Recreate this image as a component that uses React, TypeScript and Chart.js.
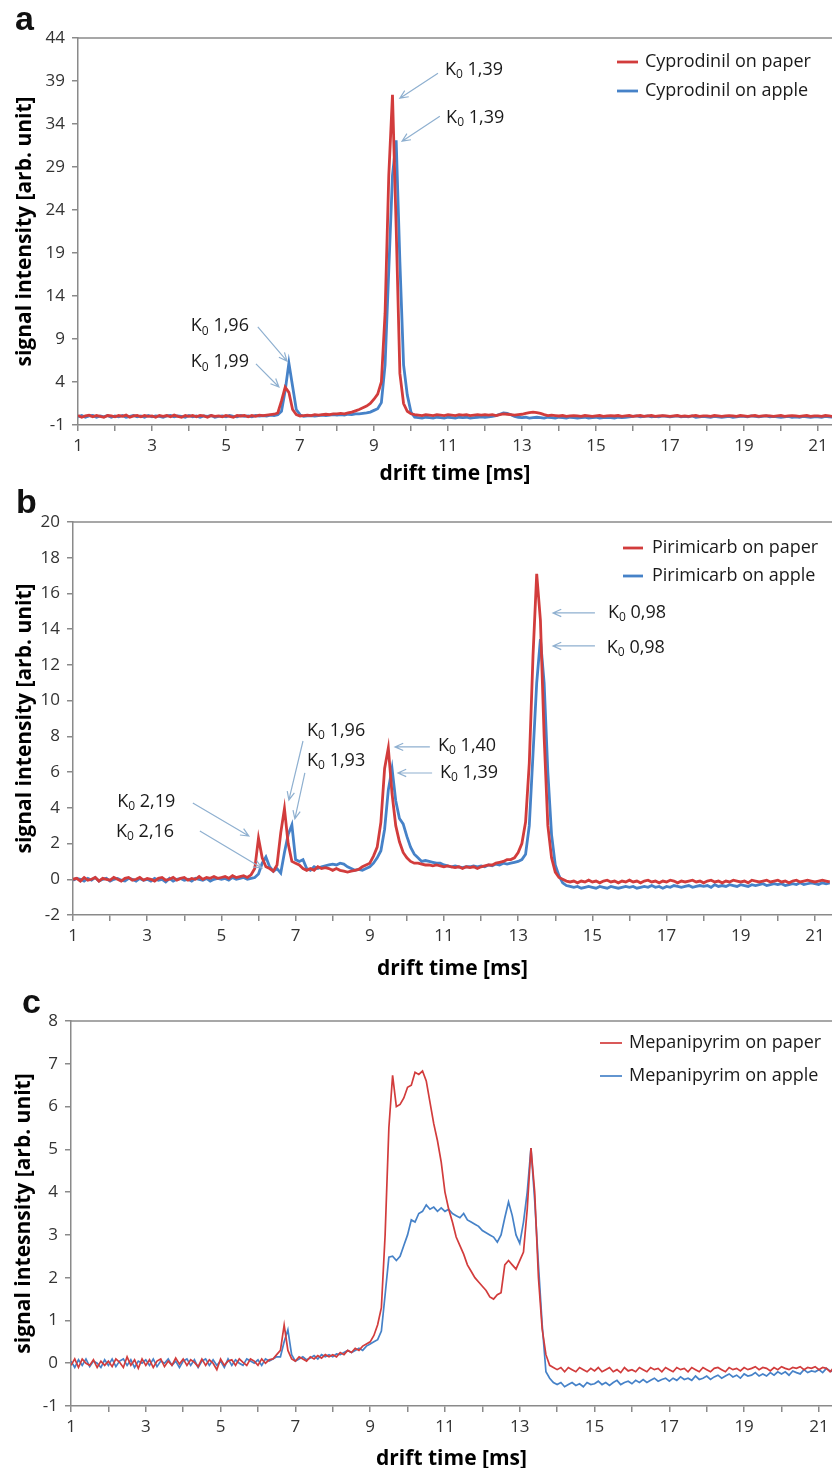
import React, { useEffect, useRef } from "react";
import { Chart, registerables } from "chart.js";

Chart.register(...registerables);

// ---------------- DATA ----------------
const DRIFT_TIME = [
  1.0, 1.1, 1.2, 1.3, 1.4, 1.5, 1.6, 1.7, 1.8, 1.9,
  2.0, 2.1, 2.2, 2.3, 2.4, 2.5, 2.6, 2.7, 2.8, 2.9,
  3.0, 3.1, 3.2, 3.3, 3.4, 3.5, 3.6, 3.7, 3.8, 3.9,
  4.0, 4.1, 4.2, 4.3, 4.4, 4.5, 4.6, 4.7, 4.8, 4.9,
  5.0, 5.1, 5.2, 5.3, 5.4, 5.5, 5.6, 5.7, 5.8, 5.9,
  6.0, 6.1, 6.2, 6.3, 6.4, 6.5, 6.6, 6.7, 6.8, 6.9,
  7.0, 7.1, 7.2, 7.3, 7.4, 7.5, 7.6, 7.7, 7.8, 7.9,
  8.0, 8.1, 8.2, 8.3, 8.4, 8.5, 8.6, 8.7, 8.8, 8.9,
  9.0, 9.1, 9.2, 9.3, 9.4, 9.5, 9.6, 9.7, 9.8, 9.9,
  10.0, 10.1, 10.2, 10.3, 10.4, 10.5, 10.6, 10.7, 10.8, 10.9,
  11.0, 11.1, 11.2, 11.3, 11.4, 11.5, 11.6, 11.7, 11.8, 11.9,
  12.0, 12.1, 12.2, 12.3, 12.4, 12.5, 12.6, 12.7, 12.8, 12.9,
  13.0, 13.1, 13.2, 13.3, 13.4, 13.5, 13.6, 13.7, 13.8, 13.9,
  14.0, 14.1, 14.2, 14.3, 14.4, 14.5, 14.6, 14.7, 14.8, 14.9,
  15.0, 15.1, 15.2, 15.3, 15.4, 15.5, 15.6, 15.7, 15.8, 15.9,
  16.0, 16.1, 16.2, 16.3, 16.4, 16.5, 16.6, 16.7, 16.8, 16.9,
  17.0, 17.1, 17.2, 17.3, 17.4, 17.5, 17.6, 17.7, 17.8, 17.9,
  18.0, 18.1, 18.2, 18.3, 18.4, 18.5, 18.6, 18.7, 18.8, 18.9,
  19.0, 19.1, 19.2, 19.3, 19.4, 19.5, 19.6, 19.7, 19.8, 19.9,
  20.0, 20.1, 20.2, 20.3, 20.4, 20.5, 20.6, 20.7, 20.8, 20.9,
  21.0, 21.1, 21.2, 21.3, 21.4,
];

const X_TICKS = [1, 2, 3, 4, 5, 6, 7, 8, 9, 10, 11, 12, 13, 14, 15, 16, 17, 18, 19, 20, 21];
const X_TICK_LABELS = ["1", "", "3", "", "5", "", "7", "", "9", "", "11", "", "13", "", "15", "", "17", "", "19", "", "21"];

const Y_TICKS_A = [-1, 4, 9, 14, 19, 24, 29, 34, 39, 44];
const Y_TICK_LABELS_A = ["-1", "4", "9", "14", "19", "24", "29", "34", "39", "44"];
const Y_TICKS_B = [-2, 0, 2, 4, 6, 8, 10, 12, 14, 16, 18, 20];
const Y_TICK_LABELS_B = ["-2", "0", "2", "4", "6", "8", "10", "12", "14", "16", "18", "20"];
const Y_TICKS_C = [-1, 0, 1, 2, 3, 4, 5, 6, 7, 8];
const Y_TICK_LABELS_C = ["-1", "0", "1", "2", "3", "4", "5", "6", "7", "8"];

// Panel a: Cyprodinil
const CYPRODINIL_PAPER = [
  0.1, -0.1, 0.05, 0.15, -0.05, 0.1, 0, -0.1, 0.1, 0.05,
  -0.05, 0.1, 0, 0.15, -0.1, 0.05, 0.1, -0.05, 0.1, 0,
  0.05, -0.1, 0.1, 0, 0.1, -0.05, 0.15, 0, -0.1, 0.1,
  0, 0.1, -0.05, 0.1, 0.05, -0.1, 0.1, 0, 0.05, -0.05,
  0.1, 0, -0.1, 0.1, 0.05, 0.1, -0.05, 0.1, 0, 0.15,
  0.1, 0.15, 0.2, 0.25, 0.4, 1.8, 3.4, 2.8, 0.8, 0.2,
  0.05, 0.1, 0.15, 0.1, 0.2, 0.15, 0.2, 0.25, 0.2, 0.3,
  0.3, 0.35, 0.3, 0.4, 0.5, 0.65, 0.8, 1.0, 1.2, 1.5,
  2.0, 2.6, 4.0, 12, 28, 37.4, 22, 5, 1.5, 0.6,
  0.3, 0.2, 0.15, 0.1, 0.2, 0.15, 0.1, 0.2, 0.15, 0.1,
  0.2, 0.15, 0.1, 0.2, 0.15, 0.2, 0.1, 0.15, 0.2, 0.15,
  0.2, 0.15, 0.2, 0.1, 0.2, 0.3, 0.25, 0.2, 0.15, 0.2,
  0.25, 0.35, 0.45, 0.5, 0.45, 0.35, 0.2, 0.1, 0.15, 0.1,
  0.05, 0.1, 0, 0.05, 0.1, 0.05, 0, 0.1, 0.05, 0,
  0.05, 0.1, 0, 0.05, 0.1, 0.05, 0.1, 0, 0.05, 0.1,
  0, 0.05, 0.1, 0, 0.05, 0.1, 0, 0.05, 0.1, 0.05,
  0, 0.05, 0.1, 0, 0.05, 0, 0.05, 0.1, 0, 0.05,
  0.05, 0, 0.1, 0.05, 0, 0.05, 0.1, 0.05, 0, 0.1,
  0.05, 0, 0.05, 0.1, 0, 0.05, 0.1, 0.05, 0, 0.05,
  0.1, 0, 0.05, 0.1, 0.05, 0, 0.05, 0.1, 0, 0.05,
  0.05, 0, 0.1, 0.05, 0,
];
const CYPRODINIL_APPLE = [
  -0.05, 0.1, -0.1, 0.05, 0.1, -0.1, 0.05, -0.05, 0.1, -0.1,
  0.05, -0.05, 0.1, -0.1, 0, 0.1, -0.05, 0.05, -0.1, 0.1,
  -0.05, 0.05, 0, -0.1, 0.05, 0.1, -0.05, 0.05, 0, -0.1,
  0.1, -0.05, 0.05, -0.1, 0.05, 0, 0.1, -0.1, 0, 0.05,
  -0.05, 0.1, 0, -0.05, 0.1, 0, 0.05, -0.05, 0.1, 0.05,
  0.1, 0.05, 0.15, 0.1, 0.2, 0.6, 3.0, 6.2, 3.5, 0.8,
  0.2, 0, 0.05, 0.1, 0.05, 0.1, 0.15, 0.1, 0.15, 0.2,
  0.15, 0.2, 0.15, 0.25, 0.2, 0.3, 0.3, 0.35, 0.4, 0.5,
  0.7, 0.9, 1.6, 6, 17, 28, 32.1, 18, 6, 2.5,
  0.5, -0.1, -0.15, -0.2, -0.1, -0.15, -0.2, -0.1, -0.15, -0.2,
  -0.1, -0.15, -0.2, -0.1, -0.15, -0.1, -0.2, -0.15, -0.1, -0.05,
  -0.1, -0.05, 0, 0.1, 0.25, 0.4, 0.35, 0.2, 0, -0.1,
  -0.15, -0.1, -0.2, -0.15, -0.1, -0.15, -0.2, -0.1, -0.15, -0.2,
  -0.1, -0.15, -0.2, -0.1, -0.15, -0.2, -0.15, -0.1, -0.2, -0.15,
  -0.1, -0.2, -0.15, -0.1, -0.15, -0.2, -0.1, -0.15, -0.1, -0.05,
  0, 0.05, -0.05, 0, 0.05, -0.05, 0, -0.05, 0.05, 0,
  -0.05, 0, 0.05, -0.05, 0, -0.05, 0.05, -0.1, -0.05, 0,
  -0.05, -0.1, 0, -0.05, -0.1, -0.05, 0, -0.1, -0.05, 0,
  0, -0.05, 0.05, 0, -0.05, 0, 0.05, -0.05, 0, -0.05,
  -0.1, -0.05, 0, -0.1, -0.05, -0.1, 0, -0.05, -0.1, -0.05,
  -0.05, -0.1, 0, -0.05, -0.1,
];

// Panel b: Pirimicarb
const PIRIMICARB_PAPER = [
  0, 0.05, -0.1, 0.1, -0.05, 0, 0.1, -0.1, 0.05, 0,
  -0.05, 0.1, 0, -0.1, 0.05, 0.1, -0.05, 0, 0.1, -0.05,
  0.05, 0, -0.1, 0.05, 0.1, -0.05, 0, 0.1, -0.05, 0.05,
  0.1, -0.05, 0.05, 0, 0.15, 0, 0.1, 0.05, 0.15, 0.05,
  0.1, 0.15, 0.05, 0.2, 0.1, 0.15, 0.2, 0.1, 0.25, 0.6,
  2.3, 1.2, 0.7, 0.6, 0.45, 0.8, 2.6, 3.95, 2.0, 1.0,
  0.9, 0.8, 0.6, 0.5, 0.6, 0.5, 0.7, 0.6, 0.65, 0.6,
  0.5, 0.6, 0.5, 0.45, 0.4, 0.45, 0.5, 0.55, 0.7, 0.8,
  0.9, 1.3, 1.8, 3.2, 6.2, 7.35, 4.8, 3.0, 2.1, 1.5,
  1.2, 1.0, 0.9, 0.9, 0.85, 0.8, 0.8, 0.75, 0.8, 0.75,
  0.7, 0.75, 0.7, 0.65, 0.7, 0.6, 0.7, 0.65, 0.7, 0.6,
  0.7, 0.75, 0.8, 0.8, 0.9, 0.95, 1.0, 1.1, 1.1, 1.2,
  1.5, 2.0, 3.2, 6.5, 12.5, 17.1, 14.5, 8, 3.0, 1.2,
  0.4, 0.1, 0, -0.1, -0.15, -0.1, -0.2, -0.1, -0.15, -0.05,
  -0.15, -0.1, -0.2, -0.1, -0.05, -0.15, -0.1, -0.2, -0.1, -0.15,
  -0.05, -0.15, -0.1, -0.2, -0.1, -0.05, -0.15, -0.1, -0.2, -0.1,
  -0.15, -0.05, -0.1, -0.2, -0.1, -0.15, -0.1, -0.05, -0.15, -0.1,
  -0.2, -0.1, -0.05, -0.15, -0.1, -0.2, -0.1, -0.15, -0.05, -0.1,
  -0.15, -0.1, -0.2, -0.05, -0.1, -0.15, -0.1, -0.05, -0.15, -0.1,
  -0.05, -0.15, -0.1, -0.2, -0.1, -0.05, -0.15, -0.1, -0.05, -0.1,
  -0.15, -0.1, -0.05, -0.1, -0.15,
];
const PIRIMICARB_APPLE = [
  -0.05, 0.05, 0, -0.1, 0.05, -0.05, 0.1, -0.1, 0, 0.05,
  -0.1, 0, 0.05, -0.05, -0.1, 0.05, 0, -0.1, 0.05, -0.05,
  0, -0.1, 0.05, -0.05, 0, -0.15, 0.05, -0.1, 0, 0.05,
  -0.05, 0, -0.1, 0.05, 0, -0.05, 0.05, -0.1, 0, 0.05,
  0, 0.05, -0.05, 0.1, 0, 0.05, 0.1, 0, 0.05, 0.1,
  0.3, 0.9, 1.25, 0.7, 0.45, 0.6, 0.35, 1.5, 2.5, 3.04,
  1.1, 1.0, 1.1, 0.6, 0.5, 0.7, 0.6, 0.7, 0.75, 0.8,
  0.85, 0.8, 0.9, 0.85, 0.7, 0.6, 0.5, 0.55, 0.5, 0.6,
  0.7, 0.9, 1.2, 1.6, 2.8, 5.0, 6.2, 4.4, 3.4, 3.1,
  2.4, 1.8, 1.4, 1.2, 1.0, 1.05, 1.0, 0.95, 0.9, 0.9,
  0.8, 0.75, 0.7, 0.75, 0.7, 0.65, 0.7, 0.7, 0.75, 0.7,
  0.75, 0.7, 0.8, 0.75, 0.85, 0.8, 0.9, 0.85, 0.9, 0.95,
  1.0, 1.1, 1.4, 3.0, 7.0, 11, 13.45, 11, 6.0, 2.5,
  0.8, 0.2, -0.2, -0.35, -0.4, -0.45, -0.4, -0.5, -0.45, -0.4,
  -0.45, -0.5, -0.4, -0.45, -0.5, -0.4, -0.45, -0.5, -0.45, -0.4,
  -0.45, -0.4, -0.5, -0.45, -0.4, -0.45, -0.35, -0.45, -0.4, -0.5,
  -0.4, -0.45, -0.35, -0.4, -0.45, -0.4, -0.35, -0.45, -0.4, -0.35,
  -0.4, -0.35, -0.45, -0.3, -0.4, -0.35, -0.4, -0.3, -0.35, -0.4,
  -0.3, -0.35, -0.4, -0.3, -0.35, -0.3, -0.25, -0.35, -0.3, -0.25,
  -0.3, -0.25, -0.35, -0.3, -0.25, -0.3, -0.2, -0.3, -0.25, -0.2,
  -0.25, -0.3, -0.2, -0.25, -0.2,
];

// Panel c: Mepanipyrim
const MEPANIPYRIM_PAPER = [
  -0.05, 0.1, -0.1, 0.1, 0, -0.05, 0.08, -0.1, 0.05, -0.05,
  0.05, -0.08, 0.1, 0.02, -0.1, 0.15, -0.05, 0.08, -0.12, 0.1,
  -0.05, 0.08, -0.1, 0.05, 0.1, -0.08, 0.05, -0.05, 0.12, -0.02,
  0.1, -0.05, 0.08, 0.02, -0.08, 0.1, -0.05, 0.08, 0, -0.15,
  0.1, -0.05, 0.05, 0.08, -0.05, 0.1, 0.02, -0.05, 0.1, 0.05,
  -0.05, 0.1, 0, 0.08, 0.1, 0.2, 0.3, 0.89, 0.3, 0.1,
  0.05, 0.15, 0.1, 0.05, 0.15, 0.1, 0.18, 0.12, 0.2, 0.15,
  0.2, 0.15, 0.25, 0.2, 0.3, 0.25, 0.35, 0.3, 0.4, 0.45,
  0.5, 0.65, 0.9, 1.3, 3.0, 5.5, 6.73, 6.0, 6.05, 6.2,
  6.45, 6.5, 6.8, 6.75, 6.83, 6.6, 6.1, 5.6, 5.2, 4.7,
  4.0, 3.6, 3.3, 2.95, 2.75, 2.55, 2.3, 2.15, 2.0, 1.9,
  1.8, 1.7, 1.55, 1.5, 1.6, 1.65, 2.3, 2.4, 2.3, 2.2,
  2.4, 2.6, 3.6, 5.03, 4.0, 2.0, 0.8, 0.2, -0.05, -0.1,
  -0.15, -0.1, -0.2, -0.1, -0.15, -0.2, -0.1, -0.15, -0.2, -0.12,
  -0.18, -0.1, -0.2, -0.15, -0.1, -0.2, -0.15, -0.22, -0.1, -0.18,
  -0.15, -0.2, -0.1, -0.15, -0.2, -0.1, -0.15, -0.12, -0.2, -0.1,
  -0.15, -0.2, -0.1, -0.15, -0.12, -0.2, -0.1, -0.15, -0.2, -0.1,
  -0.15, -0.2, -0.12, -0.1, -0.15, -0.2, -0.1, -0.15, -0.12, -0.18,
  -0.1, -0.15, -0.12, -0.08, -0.15, -0.1, -0.12, -0.18, -0.1, -0.15,
  -0.08, -0.12, -0.15, -0.1, -0.12, -0.08, -0.15, -0.1, -0.12, -0.08,
  -0.15, -0.1, -0.12, -0.2, -0.1,
];
const MEPANIPYRIM_APPLE = [
  0.05, -0.1, 0.08, -0.05, 0.1, -0.08, 0.05, 0, -0.1, 0.08,
  -0.05, 0.1, -0.08, 0.05, 0.1, -0.05, 0.08, -0.1, 0.05, 0,
  0.08, -0.05, 0.1, -0.08, 0.05, 0, 0.1, -0.05, 0.05, -0.1,
  0.05, 0.1, -0.05, 0.08, -0.1, 0.05, 0.1, -0.05, 0.08, -0.05,
  0.05, -0.1, 0.1, -0.05, 0.08, 0, -0.05, 0.1, 0.05, 0,
  0.08, -0.05, 0.1, 0.05, 0.1, 0.15, 0.15, 0.5, 0.78, 0.2,
  0.05, 0.1, 0.15, 0.08, 0.12, 0.18, 0.1, 0.2, 0.15, 0.2,
  0.15, 0.22, 0.2, 0.25, 0.3, 0.25, 0.3, 0.35, 0.3, 0.4,
  0.45, 0.5, 0.55, 0.75, 1.6, 2.48, 2.5, 2.4, 2.5, 2.75,
  3.0, 3.35, 3.3, 3.5, 3.55, 3.7, 3.6, 3.65, 3.55, 3.63,
  3.55, 3.6, 3.5, 3.45, 3.4, 3.5, 3.35, 3.3, 3.25, 3.2,
  3.1, 3.05, 3.0, 2.95, 2.83, 3.0, 3.4, 3.77, 3.45, 3.0,
  2.8, 3.3, 4.0, 5.03, 3.8, 2.3, 0.9, -0.2, -0.35, -0.45,
  -0.5, -0.45, -0.55, -0.5, -0.45, -0.52, -0.48, -0.55, -0.45, -0.5,
  -0.48, -0.42, -0.5, -0.45, -0.52, -0.45, -0.4, -0.5, -0.45, -0.42,
  -0.48, -0.4, -0.45, -0.38, -0.45, -0.4, -0.35, -0.42, -0.38, -0.35,
  -0.42, -0.35, -0.4, -0.32, -0.38, -0.35, -0.4, -0.3, -0.38, -0.35,
  -0.3, -0.38, -0.32, -0.28, -0.35, -0.3, -0.25, -0.32, -0.28, -0.35,
  -0.25, -0.3, -0.28, -0.22, -0.3, -0.25, -0.3, -0.22, -0.28, -0.2,
  -0.25, -0.2, -0.28, -0.18, -0.22, -0.25, -0.15, -0.22, -0.18, -0.2,
  -0.15, -0.22, -0.12, -0.18, -0.2,
];

// Annotations (data coordinates): label value, text anchor, arrow tail, arrow tip
const NOTES_A = [
  { value: "1,39", at: [10.92, 40.3], tail: [10.73, 39.9], tip: [9.7, 37.0] },
  { value: "1,39", at: [10.95, 34.7], tail: [10.78, 34.9], tip: [9.76, 32.0] },
  { value: "1,96", at: [4.05, 10.5], tail: [5.86, 10.4], tip: [6.65, 6.44] },
  { value: "1,99", at: [4.05, 6.3], tail: [5.81, 6.1], tip: [6.43, 3.42] },
];
const NOTES_B = [
  { value: "2,19", at: [2.19, 4.33], tail: [4.23, 4.27], tip: [5.74, 2.42] },
  { value: "2,16", at: [2.16, 2.65], tail: [4.42, 2.7], tip: [6.09, 0.63] },
  { value: "1,96", at: [7.31, 8.3], tail: [7.2, 7.74], tip: [6.82, 4.44] },
  { value: "1,93", at: [7.31, 6.62], tail: [7.25, 5.95], tip: [6.98, 3.38] },
  { value: "1,40", at: [10.84, 7.46], tail: [10.62, 7.41], tip: [9.68, 7.41] },
  { value: "1,39", at: [10.89, 5.95], tail: [10.68, 5.95], tip: [9.76, 5.95] },
  { value: "0,98", at: [15.42, 14.91], tail: [15.07, 14.91], tip: [13.94, 14.91] },
  { value: "0,98", at: [15.39, 12.95], tail: [15.07, 13.06], tip: [13.94, 13.06] },
];
const NOTES_C: any[] = [];

// ---------------- STYLE ----------------
const RED = "#d23c3c";
const BLUE = "#4682c8";
const AXIS = "#8a8a8a";
const ARROW = "#8fb0d0";
const TEXT = "#1a1a1a";
const FONT = '"Open Sans", "DejaVu Sans", sans-serif';

const decorPlugin = {
  id: "decor",
  afterDraw(chart: any, _args: any, o: any) {
    const ctx = chart.ctx;
    const { left, right, top, bottom } = chart.chartArea;
    const xs = chart.scales.x;
    const ys = chart.scales.y;
    ctx.save();

    // top frame line
    ctx.strokeStyle = AXIS;
    ctx.lineWidth = 1.5;
    ctx.beginPath();
    ctx.moveTo(left, top);
    ctx.lineTo(chart.width, top);
    ctx.stroke();

    // panel letter
    ctx.fillStyle = "#111";
    ctx.font = 'bold 34px "Liberation Sans", Arial, sans-serif';
    ctx.textAlign = "left";
    ctx.textBaseline = "alphabetic";
    ctx.fillText(o.letter, o.letterX, o.letterY);

    // axis titles
    ctx.fillStyle = "#000";
    ctx.font = "bold 21px " + FONT;
    ctx.textAlign = "center";
    ctx.textBaseline = "middle";
    ctx.fillText(o.xTitle, (left + right) / 2, bottom + o.xTitleGap);
    ctx.save();
    ctx.translate(o.yTitleX, (top + bottom) / 2);
    ctx.rotate(-Math.PI / 2);
    ctx.fillText(o.yTitle, 0, 0);
    ctx.restore();

    // legend
    ctx.textAlign = "left";
    ctx.font = "18px " + FONT;
    chart.data.datasets.forEach((ds: any, i: number) => {
      const y = o.legendY + i * o.legendGap;
      ctx.strokeStyle = ds.borderColor;
      ctx.lineWidth = ds.borderWidth;
      ctx.beginPath();
      ctx.moveTo(o.legendX, y);
      ctx.lineTo(o.legendX + o.legendLine, y);
      ctx.stroke();
      ctx.fillStyle = TEXT;
      ctx.fillText(ds.label, o.legendX + o.legendLine + o.legendTextGap, y);
    });

    // annotations
    for (const n of o.notes) {
      const sx = xs.getPixelForValue(n.tail[0]);
      const sy = ys.getPixelForValue(n.tail[1]);
      const tx = xs.getPixelForValue(n.tip[0]);
      const ty = ys.getPixelForValue(n.tip[1]);
      const ang = Math.atan2(ty - sy, tx - sx);
      const L = 9;
      const W = 0.42;
      ctx.strokeStyle = ARROW;
      ctx.lineWidth = 1.2;
      ctx.beginPath();
      ctx.moveTo(sx, sy);
      ctx.lineTo(tx, ty);
      ctx.moveTo(tx - L * Math.cos(ang - W), ty - L * Math.sin(ang - W));
      ctx.lineTo(tx, ty);
      ctx.lineTo(tx - L * Math.cos(ang + W), ty - L * Math.sin(ang + W));
      ctx.stroke();

      const lx = xs.getPixelForValue(n.at[0]);
      const ly = ys.getPixelForValue(n.at[1]);
      ctx.fillStyle = TEXT;
      ctx.textBaseline = "middle";
      ctx.font = "18px " + FONT;
      ctx.fillText("K", lx, ly);
      const wk = ctx.measureText("K").width;
      ctx.font = "12px " + FONT;
      ctx.fillText("0", lx + wk, ly + 5);
      const w0 = ctx.measureText("0").width;
      ctx.font = "18px " + FONT;
      ctx.fillText(" " + n.value, lx + wk + w0, ly);
    }
    ctx.restore();
  },
};

type Panel = {
  height: number;
  top: number;
  padTop: number;
  xAxisH: number;
  yAxisW: number;
  xMax: number;
  yTicks: number[];
  yLabels: string[];
  paper: number[];
  apple: number[];
  names: string[];
  lineWidth: number;
  decor: any;
};

const PANELS: Panel[] = [
  {
    height: 485, top: 0, padTop: 38, xAxisH: 60, yAxisW: 78, xMax: 21.38,
    yTicks: Y_TICKS_A, yLabels: Y_TICK_LABELS_A,
    paper: CYPRODINIL_PAPER, apple: CYPRODINIL_APPLE,
    names: ["Cyprodinil on paper", "Cyprodinil on apple"], lineWidth: 2.8,
    decor: {
      letter: "a", letterX: 15, letterY: 30,
      xTitle: "drift time [ms]", xTitleGap: 49,
      yTitle: "signal intensity [arb. unit]", yTitleX: 25,
      legendX: 617, legendY: 62, legendGap: 29, legendLine: 21, legendTextGap: 7,
      notes: NOTES_A,
    },
  },
  {
    height: 495, top: 485, padTop: 37, xAxisH: 65, yAxisW: 73, xMax: 21.46,
    yTicks: Y_TICKS_B, yLabels: Y_TICK_LABELS_B,
    paper: PIRIMICARB_PAPER, apple: PIRIMICARB_APPLE,
    names: ["Pirimicarb on paper", "Pirimicarb on apple"], lineWidth: 2.8,
    decor: {
      letter: "b", letterX: 16, letterY: 28,
      xTitle: "drift time [ms]", xTitleGap: 54,
      yTitle: "signal intensity [arb. unit]", yTitleX: 25,
      legendX: 623, legendY: 63, legendGap: 28, legendLine: 20, legendTextGap: 9,
      notes: NOTES_B,
    },
  },
  {
    height: 488, top: 980, padTop: 41, xAxisH: 62, yAxisW: 71, xMax: 21.35,
    yTicks: Y_TICKS_C, yLabels: Y_TICK_LABELS_C,
    paper: MEPANIPYRIM_PAPER, apple: MEPANIPYRIM_APPLE,
    names: ["Mepanipyrim on paper", "Mepanipyrim on apple"], lineWidth: 1.7,
    decor: {
      letter: "c", letterX: 22, letterY: 33,
      xTitle: "drift time [ms]", xTitleGap: 53,
      yTitle: "signal intesnsity [arb. unit]", yTitleX: 24,
      legendX: 600, legendY: 63, legendGap: 33, legendLine: 22, legendTextGap: 7,
      notes: NOTES_C,
    },
  },
];

function PanelChart({ p }: { p: Panel }) {
  const ref = useRef<HTMLCanvasElement | null>(null);
  useEffect(() => {
    if (!ref.current) return;
    const tickFont = { family: FONT, size: 17 };
    const gridCommon = {
      drawOnChartArea: false,
      drawTicks: true,
      tickLength: 6,
      color: AXIS,
      lineWidth: 1.5,
    };
    const chart = new Chart(ref.current, {
      type: "line",
      data: {
        datasets: [
          {
            label: p.names[0],
            data: DRIFT_TIME.map((x, i) => ({ x, y: p.paper[i] })),
            borderColor: RED,
            borderWidth: p.lineWidth,
            pointRadius: 0,
            tension: 0,
            fill: false,
          },
          {
            label: p.names[1],
            data: DRIFT_TIME.map((x, i) => ({ x, y: p.apple[i] })),
            borderColor: BLUE,
            borderWidth: p.lineWidth,
            pointRadius: 0,
            tension: 0,
            fill: false,
          },
        ],
      },
      options: {
        responsive: false,
        maintainAspectRatio: false,
        animation: false,
        events: [],
        layout: { padding: { top: p.padTop, left: 0, right: 0, bottom: 0 } },
        plugins: {
          legend: { display: false },
          tooltip: { enabled: false },
          title: { display: false },
          decor: p.decor,
        } as any,
        scales: {
          x: {
            type: "linear",
            min: 1,
            max: p.xMax,
            afterBuildTicks: (s: any) => {
              s.ticks = X_TICKS.map((v) => ({ value: v }));
            },
            afterFit: (s: any) => {
              s.height = p.xAxisH;
              s.paddingLeft = 0;
              s.paddingRight = 0;
            },
            ticks: {
              autoSkip: false,
              maxRotation: 0,
              padding: 5,
              color: "#333",
              font: tickFont,
              callback: (_v: any, i: number) => X_TICK_LABELS[i],
            },
            grid: gridCommon,
            border: { display: true, color: AXIS, width: 1.5 },
          },
          y: {
            type: "linear",
            min: p.yTicks[0],
            max: p.yTicks[p.yTicks.length - 1],
            afterBuildTicks: (s: any) => {
              s.ticks = p.yTicks.map((v) => ({ value: v }));
            },
            afterFit: (s: any) => {
              s.width = p.yAxisW;
              s.paddingTop = 0;
              s.paddingBottom = 0;
            },
            ticks: {
              autoSkip: false,
              padding: 7,
              color: "#333",
              font: tickFont,
              callback: (_v: any, i: number) => p.yLabels[i],
            },
            grid: gridCommon,
            border: { display: true, color: AXIS, width: 1.5 },
          },
        },
      } as any,
      plugins: [decorPlugin as any],
    });
    return () => chart.destroy();
  }, [p]);
  return (
    <canvas
      ref={ref}
      width={832}
      height={p.height}
      style={{ position: "absolute", left: 0, top: p.top, width: 832, height: p.height, display: "block" }}
    />
  );
}

export default function App() {
  return (
    <div style={{ position: "absolute", left: 0, top: 0, width: 832, height: 1468, background: "#fff", overflow: "hidden" }}>
      {PANELS.map((p, i) => (
        <PanelChart key={i} p={p} />
      ))}
    </div>
  );
}
